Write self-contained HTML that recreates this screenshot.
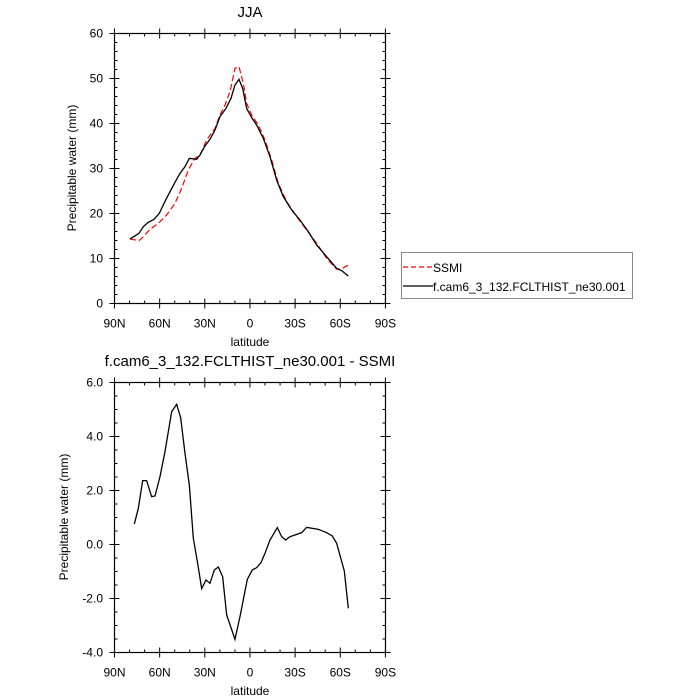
<!DOCTYPE html>
<html><head><meta charset="utf-8"><style>
html,body{margin:0;padding:0;background:#fff}
svg{display:block;font-family:"Liberation Sans",sans-serif}
</style></head><body>
<svg width="700" height="700" viewBox="0 0 700 700" xmlns="http://www.w3.org/2000/svg">
<g id="ticks" stroke="#000" stroke-width="1" fill="none"></g>
<rect x="114.5" y="33.5" width="271" height="270" fill="none" stroke="#000" stroke-width="1.2"/>
<rect x="114.5" y="382.5" width="271" height="270" fill="none" stroke="#000" stroke-width="1.2"/>
<g transform="translate(100,20) scale(0.3333)" fill="none">
<polyline vector-effect="non-scaling-stroke" stroke="#ff0000" stroke-width="1.2" stroke-dasharray="6,3" points="90,657 117,662 130,650 150,628 175,610 200,585 225,550 245,505 265,450 285,415 300,405 320,360 345,325 360,285 375,255 390,215 405,145 417,140 430,190 440,250 455,285 475,315 495,360 515,420 535,490 560,545 590,590 620,630 650,670 680,715 710,748 725,747 745,735"/>
<polyline vector-effect="non-scaling-stroke" stroke="#000" stroke-width="1.3" points="90,657 117,640 130,620 145,607 162,598 178,580 193,548 210,515 225,487 240,460 255,440 268,415 290,418 300,405 315,378 330,358 345,330 360,290 378,265 393,235 405,195 417,178 428,205 440,265 455,293 470,315 490,355 510,410 530,480 550,530 575,570 600,600 625,635 650,675 680,710 710,745 725,752 745,768"/>
</g>
<g transform="translate(100,370) scale(0.3333)" fill="none">
<polyline vector-effect="non-scaling-stroke" stroke="#000" stroke-width="1.3" points="103,462 115,415 128,332 140,332 155,380 165,378 180,320 195,245 215,125 230,103 242,143 255,250 268,345 280,505 293,580 305,656 318,630 330,640 343,600 355,591 368,620 380,735 405,808 420,740 442,628 457,600 470,593 483,578 495,550 510,510 532,473 545,500 557,510 570,500 585,495 605,488 620,472 655,478 680,488 697,498 710,520 733,603 745,715"/>
</g>
<g font-size="12" fill="#000">
<text x="250" y="17" font-size="15" text-anchor="middle">JJA</text>
<text x="250" y="366" font-size="15" text-anchor="middle">f.cam6_3_132.FCLTHIST_ne30.001 - SSMI</text>
<text x="250" y="346" text-anchor="middle">latitude</text>
<text x="250" y="695" text-anchor="middle">latitude</text>
<text transform="translate(76,168) rotate(-90)" text-anchor="middle">Precipitable water (mm)</text>
<text transform="translate(68,517) rotate(-90)" text-anchor="middle">Precipitable water (mm)</text>
<g text-anchor="end" id="ylab"></g>
<g text-anchor="middle" id="xlab"></g>
</g>
<rect x="401.5" y="252.5" width="231" height="46" fill="none" stroke="#888" stroke-width="1"/>
<line x1="403" y1="267" x2="433" y2="267" stroke="#ff0000" stroke-width="1.2" stroke-dasharray="5,3"/>
<line x1="403" y1="286" x2="433" y2="286" stroke="#000" stroke-width="1.2"/>
<text x="433" y="272" font-size="12">SSMI</text>
<text x="433" y="291" font-size="12">f.cam6_3_132.FCLTHIST_ne30.001</text>
<script>
(function(){
var t=document.getElementById('ticks'),yl=document.getElementById('ylab'),xl=document.getElementById('xlab');
var ns='http://www.w3.org/2000/svg';
function L(x1,y1,x2,y2){var l=document.createElementNS(ns,'line');l.setAttribute('x1',x1);l.setAttribute('y1',y1);l.setAttribute('x2',x2);l.setAttribute('y2',y2);t.appendChild(l);}
function T(p,x,y,s){var e=document.createElementNS(ns,'text');e.setAttribute('x',x);e.setAttribute('y',y);e.textContent=s;p.appendChild(e);}
var xs=['90N','60N','30N','0','30S','60S','90S'];
[[33.5,303.5],[382.5,652.5]].forEach(function(b,k){
 var top=b[0],bot=b[1];
 for(var i=0;i<=18;i++){var x=114.5+i*15.05;var maj=i%3==0;
  if(maj){L(x,bot+5,x,bot-5);L(x,top-5,x,top+5);T(xl,x,bot+24,xs[i/3]);}
  else{L(x,bot,x,bot-3);L(x,top,x,top+3);}}
 if(k==0){for(var v=0;v<=60;v+=2){var y=303.5-v*4.5;var maj=v%10==0;
  if(maj){L(109.5,y,119.5,y);L(380.5,y,390.5,y);T(yl,103,y+4,String(v));}
  else{L(114.5,y,117.5,y);L(385.5,y,382.5,y);}}}
 else{for(var j=0;j<=20;j++){var v=-4+j*0.5;var y=652.5-j*13.5;var maj=j%4==0;
  if(maj){L(109.5,y,119.5,y);L(380.5,y,390.5,y);T(yl,103,y+4,v.toFixed(1));}
  else{L(114.5,y,117.5,y);L(385.5,y,382.5,y);}}}
});
})();
</script>
</svg>
</body></html>
